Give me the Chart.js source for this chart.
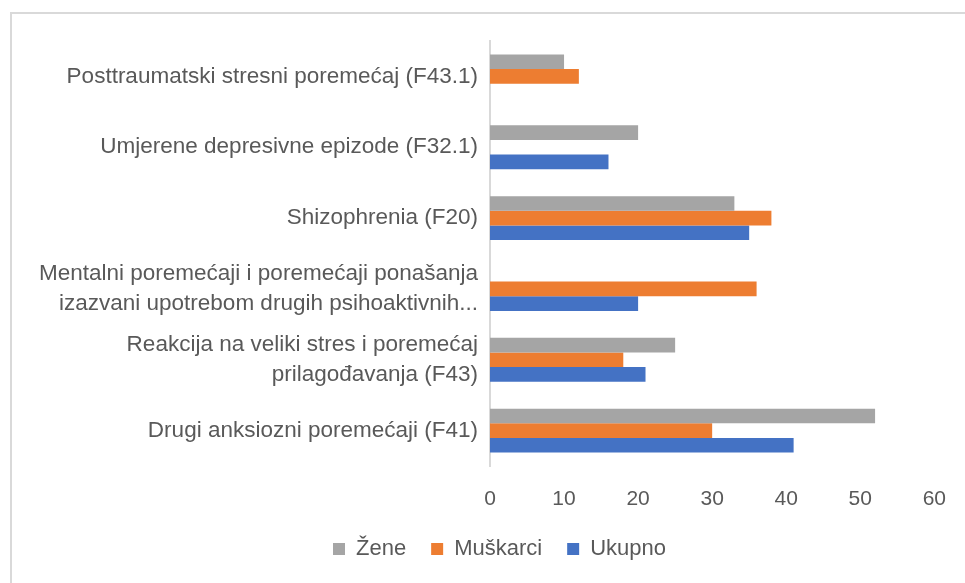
<!DOCTYPE html>
<html>
<head>
<meta charset="utf-8">
<script src="https://cdn.jsdelivr.net/npm/chart.js@4"></script>
<style>
  html, body { margin: 0; padding: 0; background: #fff; overflow: hidden; }
  #frame {
    position: absolute; left: 10px; top: 12px; width: 1000px; height: 1000px;
    border-left: 2px solid #d9d9d9; border-top: 2px solid #d9d9d9;
  }
  #wrap { position: absolute; left: 0; top: 0; width: 965px; height: 583px; }
</style>
</head>
<body>
<div id="frame"></div>
<div id="wrap"><canvas id="bar-chart" width="965" height="583"></canvas></div>
<script>
const categories = [
  "Posttraumatski stresni poremećaj (F43.1)",
  "Umjerene depresivne epizode (F32.1)",
  "Shizophrenia (F20)",
  ["Mentalni poremećaji i poremećaji ponašanja", "izazvani upotrebom drugih psihoaktivnih..."],
  ["Reakcija na veliki stres i poremećaj", "prilagođavanja (F43)"],
  "Drugi anksiozni poremećaji (F41)"
]
const zene = [10, 20, 33, null, 25, 52]
const muskarci = [12, null, 38, 36, 18, 30]
const ukupno = [null, 16, 35, 20, 21, 41]
const xTicks = [0, 10, 20, 30, 40, 50, 60]

const textColor = "#595959"
const font = "'Liberation Sans', Arial, sans-serif"

// legend in the reference is centred under the whole frame, not under the canvas
const legendShift = {
  id: 'legendShift',
  afterLayout: (chart) => {
    chart.legend.left = 60
  }
}

new Chart(document.getElementById("bar-chart"), {
  type: 'bar',
  data: {
    labels: categories,
    datasets: [
      { label: "Žene", data: zene, backgroundColor: "#a5a5a5" },
      { label: "Muškarci", data: muskarci, backgroundColor: "#ed7d31" },
      { label: "Ukupno", data: ukupno, backgroundColor: "#4472c4" }
    ]
  },
  plugins: [legendShift],
  options: {
    indexAxis: 'y',
    responsive: false,
    animation: false,
    datasets: {
      bar: { categoryPercentage: 0.62, barPercentage: 1 }
    },
    layout: { padding: { left: 20, right: 26, top: 41, bottom: 13 } },
    plugins: {
      tooltip: { enabled: false },
      legend: {
        position: 'bottom',
        labels: {
          boxWidth: 12,
          boxHeight: 12,
          padding: 25,
          color: textColor,
          font: { family: font, size: 22 }
        }
      }
    },
    scales: {
      x: {
        min: 0,
        max: 60,
        afterBuildTicks: (scale) => { scale.ticks = xTicks.map(v => ({ value: v })) },
        afterFit: (scale) => { scale.height = 47 },
        grid: { display: false, drawTicks: false },
        border: { display: false },
        ticks: { color: textColor, padding: 19, font: { family: font, size: 21, lineHeight: 1.35 } }
      },
      y: {
        afterFit: (scale) => { scale.width = 470 },
        grid: { display: false, drawTicks: false },
        border: { display: true, color: "#d9d9d9", width: 2 },
        ticks: { color: textColor, padding: 12, font: { family: font, size: 22.5, lineHeight: 1.3 } }
      }
    }
  }
});
</script>
</body>
</html>
